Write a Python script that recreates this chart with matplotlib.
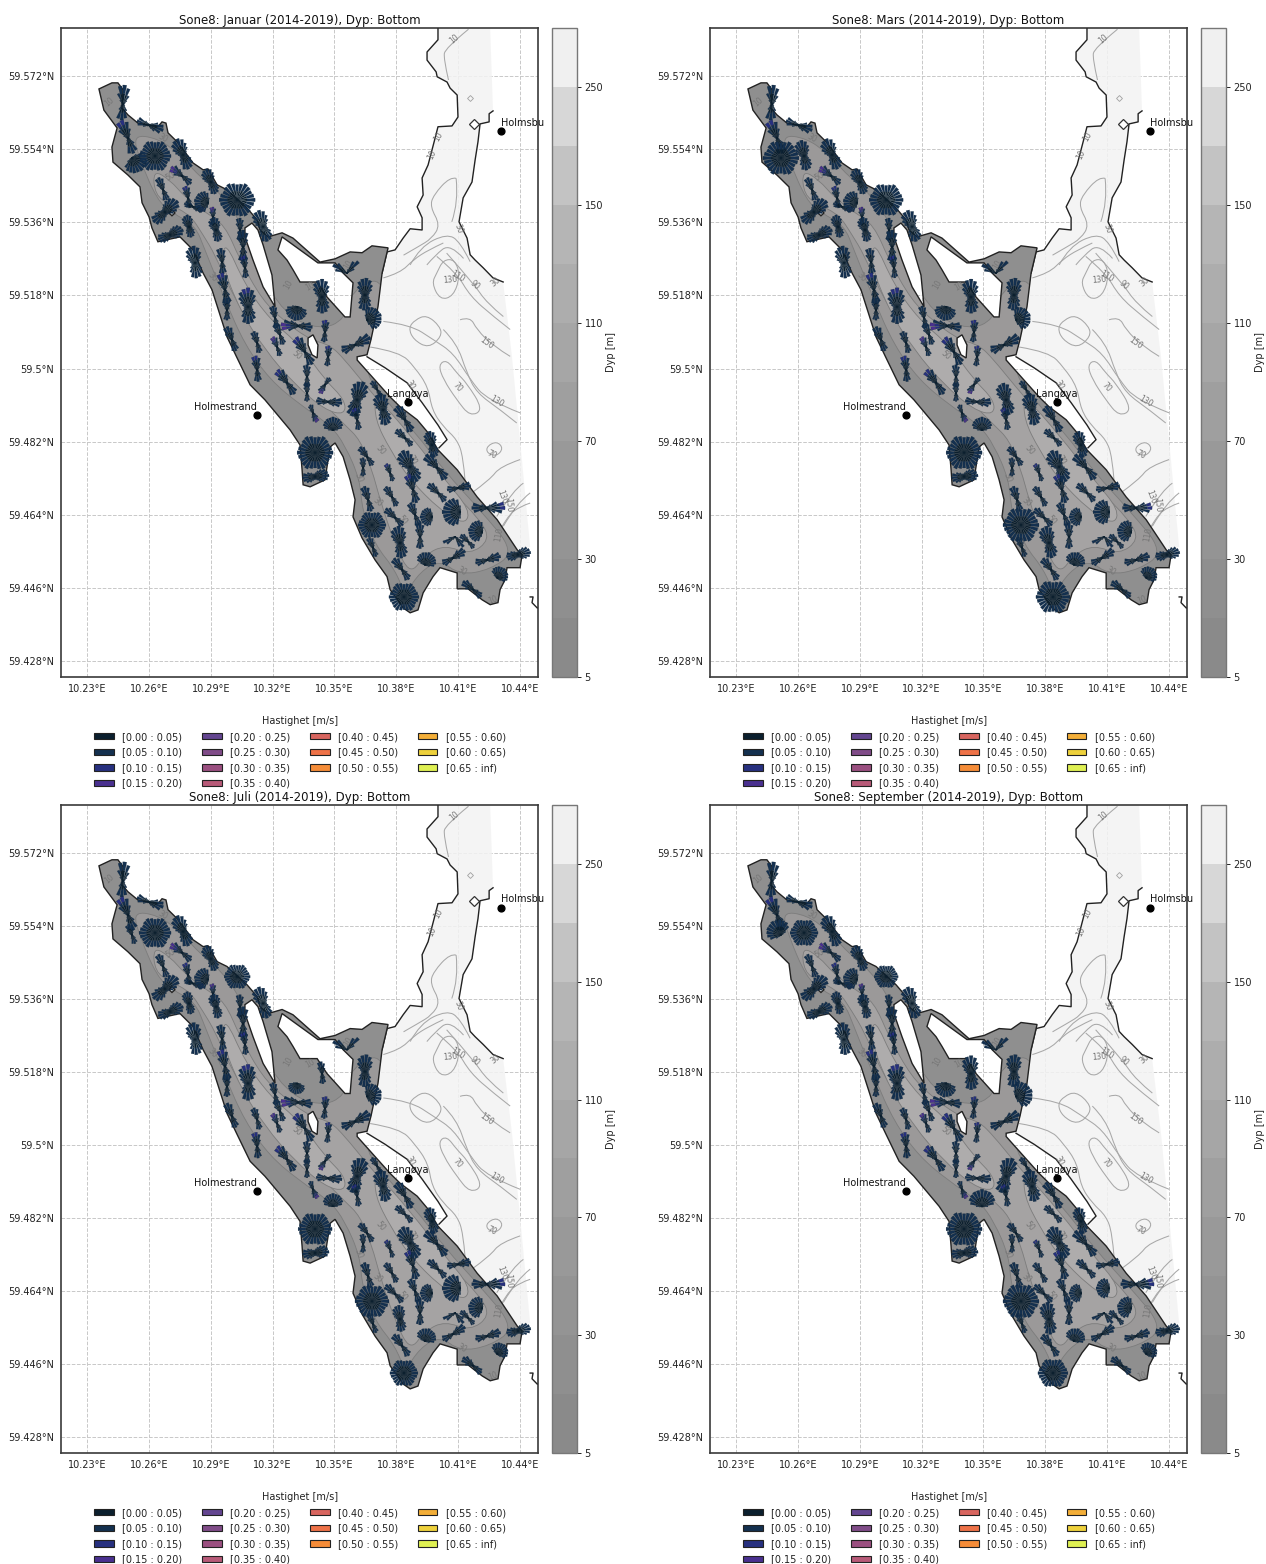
import numpy as np
import matplotlib

matplotlib.use("Agg")
from matplotlib import pyplot as plt
from matplotlib.cm import ScalarMappable
from matplotlib.collections import PolyCollection
from matplotlib.colors import BoundaryNorm, ListedColormap
from matplotlib.patches import Patch, PathPatch, Polygon
from matplotlib.path import Path

FIG_W, FIG_H = 1266, 1564

MONTHS = ["Januar", "Mars", "Juli", "September"]
LON_TICKS = [10.23, 10.26, 10.29, 10.32, 10.35, 10.38, 10.41, 10.44]
LAT_TICKS = [59.428, 59.446, 59.464, 59.482, 59.5, 59.518, 59.536, 59.554, 59.572]
XLIM = (10.2174, 10.4487)
YLIM = (59.4241, 59.5838)

DEPTH_LEVELS = [5, 10, 30, 50, 70, 90, 110, 130, 150, 200, 250, 300]
DEPTH_TICKS = [5, 30, 70, 110, 150, 250]
DEPTH_GREYS = ["#8a8a8a", "#8f8f8f", "#949494", "#999999", "#9f9f9f", "#a6a6a6",
               "#adadad", "#b5b5b5", "#c3c3c3", "#d7d7d7", "#f0f0f0"]

SPEED_LABELS = ["[0.00 : 0.05)", "[0.05 : 0.10)", "[0.10 : 0.15)", "[0.15 : 0.20)",
                "[0.20 : 0.25)", "[0.25 : 0.30)", "[0.30 : 0.35)", "[0.35 : 0.40)",
                "[0.40 : 0.45)", "[0.45 : 0.50)", "[0.50 : 0.55)",
                "[0.55 : 0.60)", "[0.60 : 0.65)", "[0.65 : inf)"]
SPEED_COLORS = ["#0b1f2e", "#14304f", "#27307f", "#4a3090", "#634590", "#804c88",
                "#9a4f80", "#b85a78", "#d8655f", "#ee7248", "#f58c38",
                "#f3ae38", "#eed13c", "#dff052"]

# zone outline, clockwise from the north-west tip
ZONE_LON = [10.2358, 10.2421, 10.2450, 10.2475, 10.2470, 10.2499, 10.2547, 10.2644, 10.2664,
            10.2683, 10.2693, 10.2737, 10.2775, 10.2814, 10.2863, 10.2887, 10.2931, 10.2979,
            10.3076, 10.3125, 10.3139, 10.3178, 10.3246, 10.3299, 10.3430, 10.3503, 10.3576,
            10.3634, 10.3682, 10.3760, 10.3731, 10.3711, 10.3677, 10.3658, 10.3610, 10.3610,
            10.3682, 10.3770, 10.3818, 10.3901, 10.3954, 10.4002, 10.4095, 10.4192, 10.4289,
            10.4386, 10.4410, 10.4400, 10.4337, 10.4327, 10.4303, 10.4293, 10.4255, 10.4216,
            10.4148, 10.4095, 10.4095, 10.4012, 10.3978, 10.3930, 10.3905, 10.3867, 10.3833,
            10.3770, 10.3755, 10.3697, 10.3634, 10.3590, 10.3600, 10.3576, 10.3542, 10.3503,
            10.3479, 10.3469, 10.3454, 10.3382, 10.3348, 10.3343, 10.3333, 10.3285, 10.3163,
            10.3091, 10.3028, 10.2979, 10.2906, 10.2863, 10.2814, 10.2751, 10.2644, 10.2615,
            10.2601, 10.2567, 10.2557, 10.2499, 10.2426, 10.2421, 10.2446, 10.2382]
ZONE_LAT = [59.5688, 59.5703, 59.5703, 59.5686, 59.5641, 59.5624, 59.5604, 59.5595, 59.5607,
            59.5604, 59.5580, 59.5558, 59.5533, 59.5506, 59.5489, 59.5491, 59.5452, 59.5440,
            59.5395, 59.5366, 59.5341, 59.5324, 59.5334, 59.5321, 59.5262, 59.5270, 59.5287,
            59.5285, 59.5302, 59.5297, 59.5235, 59.5152, 59.5071, 59.5034, 59.5029, 59.5021,
            59.4980, 59.4930, 59.4906, 59.4874, 59.4842, 59.4800, 59.4751, 59.4684, 59.4628,
            59.4554, 59.4542, 59.4510, 59.4510, 59.4480, 59.4456, 59.4424, 59.4419, 59.4431,
            59.4458, 59.4458, 59.4497, 59.4510, 59.4488, 59.4448, 59.4406, 59.4399, 59.4411,
            59.4456, 59.4488, 59.4529, 59.4583, 59.4635, 59.4677, 59.4726, 59.4783, 59.4817,
            59.4807, 59.4775, 59.4726, 59.4709, 59.4714, 59.4751, 59.4812, 59.4849, 59.4923,
            59.4960, 59.5026, 59.5078, 59.5194, 59.5235, 59.5292, 59.5324, 59.5312, 59.5346,
            59.5373, 59.5408, 59.5447, 59.5476, 59.5508, 59.5545, 59.5592, 59.5636]

HOLE_A_LON = [10.3066, 10.3100, 10.3129, 10.3154, 10.3197, 10.3212, 10.3154, 10.3105, 10.3066]
HOLE_A_LAT = [59.5346, 59.5358, 59.5341, 59.5304, 59.5230, 59.5152, 59.5201, 59.5267, 59.5324]
HOLE_B_LON = [10.3246, 10.3420, 10.3503, 10.3542, 10.3590, 10.3576, 10.3551, 10.3464, 10.3416,
              10.3333, 10.3299, 10.3270, 10.3226]
HOLE_B_LAT = [59.5324, 59.5260, 59.5260, 59.5235, 59.5211, 59.5127, 59.5127, 59.5176, 59.5213,
              59.5213, 59.5243, 59.5267, 59.5292]
HOLE_C_LON = [10.2698, 10.2712, 10.2727, 10.2712]
HOLE_C_LAT = [59.5383, 59.5390, 59.5383, 59.5376]
HOLE_D_LON = [10.3372, 10.3396, 10.3420, 10.3416, 10.3391, 10.3372]
HOLE_D_LAT = [59.5075, 59.5083, 59.5058, 59.5026, 59.5034, 59.5058]

# light sea area east of the zone
SEA_LON = [10.4002, 10.4002, 10.3949, 10.3949, 10.3993, 10.3998, 10.4046, 10.4061, 10.4095,
           10.4099, 10.4070, 10.4002, 10.3988, 10.3954, 10.3925, 10.3930, 10.3901, 10.3925,
           10.3925, 10.3867, 10.3833, 10.3794, 10.3755, 10.3731, 10.3711, 10.3677, 10.3658,
           10.3745, 10.3852, 10.3925, 10.4002, 10.4046, 10.4007, 10.4095, 10.4192, 10.4289,
           10.4386, 10.4449, 10.4400, 10.4361, 10.4318, 10.4269, 10.4221, 10.4182, 10.4158,
           10.4143, 10.4104, 10.4124, 10.4167, 10.4182, 10.4196, 10.4206, 10.4250, 10.4250,
           10.4269, 10.4255]
SEA_LAT = [59.5836, 59.5809, 59.5779, 59.5759, 59.5730, 59.5718, 59.5705, 59.5690, 59.5673,
           59.5619, 59.5597, 59.5595, 59.5567, 59.5501, 59.5469, 59.5427, 59.5398, 59.5371,
           59.5341, 59.5344, 59.5321, 59.5292, 59.5287, 59.5235, 59.5152, 59.5071, 59.5029,
           59.5002, 59.4965, 59.4916, 59.4861, 59.4825, 59.4805, 59.4751, 59.4684, 59.4628,
           59.4554, 59.4561, 59.4825, 59.5029, 59.5213, 59.5223, 59.5248, 59.5267, 59.5280,
           59.5321, 59.5361, 59.5420, 59.5459, 59.5513, 59.5558, 59.5602, 59.5607, 59.5627,
           59.5634, 59.5838]

# coast lines that are not part of the zone outline
COAST_WEST_N = 24
COAST_LANG_LON = [10.3658, 10.3745, 10.3852, 10.3925, 10.4002, 10.4046, 10.4007]
COAST_LANG_LAT = [59.5029, 59.5002, 59.4965, 59.4916, 59.4861, 59.4825, 59.4805]
COAST_EAST_LON = [10.4269, 10.4250, 10.4250, 10.4206, 10.4196, 10.4182, 10.4167, 10.4124, 10.4104,
                  10.4143, 10.4158, 10.4182, 10.4221, 10.4269, 10.4318]
COAST_EAST_LAT = [59.5634, 59.5627, 59.5607, 59.5602, 59.5558, 59.5513, 59.5459, 59.5420, 59.5361,
                  59.5321, 59.5280, 59.5267, 59.5248, 59.5223, 59.5213]
COAST_SE_LON = [10.4449, 10.4463, 10.4458, 10.4483]
COAST_SE_LAT = [59.4438, 59.4438, 59.4424, 59.4411]

# depth areas inside the zone
D30_LON = [10.2523, 10.2640, 10.2741, 10.2863, 10.2945, 10.3042, 10.3115, 10.3260, 10.3430, 10.3551,
           10.3585, 10.3745, 10.3745, 10.3634, 10.3745, 10.3891, 10.4036, 10.4206, 10.4376, 10.4255,
           10.4109, 10.4012, 10.3915, 10.3842, 10.3794, 10.3697, 10.3634, 10.3624, 10.3551, 10.3479,
           10.3333, 10.3188, 10.3066, 10.2969, 10.2872, 10.2824, 10.2712, 10.2640, 10.2557]
D30_LAT = [59.5575, 59.5567, 59.5531, 59.5464, 59.5432, 59.5366, 59.5255, 59.5132, 59.5095, 59.5120,
           59.5194, 59.5230, 59.5058, 59.5002, 59.4923, 59.4844, 59.4746, 59.4652, 59.4549, 59.4505,
           59.4492, 59.4529, 59.4500, 59.4443, 59.4505, 59.4566, 59.4652, 59.4726, 59.4812, 59.4861,
           59.4911, 59.4972, 59.5058, 59.5169, 59.5292, 59.5353, 59.5383, 59.5415, 59.5513]
D50_LON = [10.2620, 10.2703, 10.2775, 10.2872, 10.2969, 10.3042, 10.3149, 10.3260, 10.3382, 10.3479,
           10.3551, 10.3648, 10.3794, 10.3939, 10.4061, 10.4206, 10.4255, 10.4158, 10.4036, 10.3939,
           10.3867, 10.3794, 10.3721, 10.3682, 10.3624, 10.3551, 10.3430, 10.3260, 10.3139, 10.3018,
           10.2921, 10.2863, 10.2800, 10.2703, 10.2630]
D50_LAT = [59.5489, 59.5464, 59.5422, 59.5385, 59.5353, 59.5267, 59.5169, 59.5115, 59.5071, 59.5058,
           59.5021, 59.4960, 59.4874, 59.4775, 59.4702, 59.4628, 59.4579, 59.4542, 59.4566, 59.4542,
           59.4492, 59.4566, 59.4677, 59.4751, 59.4825, 59.4861, 59.4923, 59.4984, 59.5071, 59.5169,
           59.5280, 59.5329, 59.5378, 59.5403, 59.5427]
D70A_LON = [10.2969, 10.3066, 10.3188, 10.3333, 10.3454, 10.3551, 10.3551, 10.3454, 10.3309, 10.3163,
            10.3042, 10.2955]
D70A_LAT = [59.5317, 59.5206, 59.5120, 59.5058, 59.4972, 59.4923, 59.4886, 59.4898, 59.4960, 59.5046,
            59.5144, 59.5255]
D70B_LON = [10.3697, 10.3867, 10.4036, 10.4158, 10.4133, 10.4012, 10.3867, 10.3770, 10.3697]
D70B_LAT = [59.4935, 59.4837, 59.4726, 59.4652, 59.4615, 59.4652, 59.4726, 59.4800, 59.4874]

# depth contours in the sea area
SEA_CONTOURS = [
    ([10.3673, 10.3818, 10.3891, 10.3954, 10.3973, 10.4027, 10.4095, 10.4124, 10.4133],
     [59.5053, 59.5041, 59.5002, 59.4955, 59.4898, 59.4857, 59.4825, 59.4783, 59.4726]),
    ([10.3737, 10.3867, 10.3980, 10.4077, 10.4158, 10.4239, 10.4400],
     [59.5116, 59.5108, 59.5071, 59.5038, 59.4973, 59.4923, 59.4891]),
    ([10.4109, 10.4158, 10.4190, 10.4271, 10.4352],
     [59.5120, 59.5128, 59.5096, 59.5055, 59.5030]),
    ([10.4028, 10.4093, 10.4142, 10.4190, 10.4303, 10.4384],
     [59.5096, 59.5063, 59.4989, 59.4940, 59.4899, 59.4866]),
    ([10.4239, 10.4287, 10.4319, 10.4287, 10.4239, 10.4239],
     [59.4809, 59.4821, 59.4804, 59.4784, 59.4792, 59.4809]),
    ([10.4004, 10.4044, 10.4093, 10.4142, 10.4222, 10.4158, 10.4093, 10.4028, 10.4004],
     [59.5009, 59.5022, 59.4989, 59.4964, 59.4899, 59.4882, 59.4923, 59.4973, 59.5009]),
    ([10.3996, 10.4028, 10.4085, 10.4109, 10.4077, 10.4012, 10.3972, 10.3996],
     [59.5235, 59.5268, 59.5268, 59.5227, 59.5178, 59.5169, 59.5210, 59.5235]),
    ([10.3891, 10.3947, 10.4012, 10.4020, 10.3956, 10.3883, 10.3859, 10.3891],
     [59.5120, 59.5132, 59.5104, 59.5079, 59.5050, 59.5071, 59.5100, 59.5120]),
    ([10.4044, 10.4174, 10.4239, 10.4319], [59.5284, 59.5210, 59.5161, 59.5128]),
    ([10.3996, 10.4093, 10.4158, 10.4271, 10.4352], [59.5276, 59.5235, 59.5178, 59.5128, 59.5096]),
    ([10.3737, 10.3818, 10.3883, 10.3956, 10.4028], [59.5223, 59.5235, 59.5268, 59.5292, 59.5309]),
    ([10.4166, 10.4255, 10.4303, 10.4400], [59.4694, 59.4727, 59.4759, 59.4776]),
    ([10.4287, 10.4368, 10.4416], [59.4636, 59.4702, 59.4718]),
    ([10.4319, 10.4384, 10.4449], [59.4612, 59.4669, 59.4694]),
    ([10.4287, 10.4336, 10.4400, 10.4449], [59.4587, 59.4636, 59.4661, 59.4669]),
    ([10.4150, 10.4037, 10.4029, 10.4053], [59.5835, 59.5788, 59.5763, 59.5710]),
    ([10.4090, 10.4061, 10.3980, 10.3964, 10.4013, 10.3972, 10.3907, 10.3835],
     [59.5468, 59.5472, 59.5427, 59.5398, 59.5353, 59.5320, 59.5300, 59.5279]),
    ([10.4090, 10.4102, 10.4069], [59.5468, 59.5410, 59.5361]),
    ([10.3867, 10.3916, 10.4045, 10.4110, 10.4158], [59.5255, 59.5300, 59.5332, 59.5312, 59.5263]),
    ([10.3948, 10.3988, 10.4061, 10.4126], [59.5255, 59.5279, 59.5308, 59.5271]),
]

LABEL_TEXT = ["10", "10", "30", "50", "30", "50", "50", "30", "30", "70", "50", "30", "10", "30",
              "130", "110", "90", "30", "150", "70", "130", "70", "130", "150", "110", "10", "10",
              "30", "10", "10", "10"]
LABEL_LON = [10.4080, 10.2407, 10.2669, 10.2703, 10.2906, 10.3319, 10.3721, 10.3614, 10.3711, 10.3876,
             10.3828, 10.4119, 10.4269, 10.3867, 10.4061, 10.4099, 10.4182, 10.4279, 10.4240, 10.4095,
             10.4289, 10.4264, 10.4313, 10.4342, 10.4298, 10.4002, 10.3973, 10.4099, 10.3275, 10.3382,
             10.3566]
LABEL_LAT = [59.5811, 59.5656, 59.5567, 59.5472, 59.5226, 59.5034, 59.4800, 59.4731, 59.4672, 59.4775,
             59.4628, 59.4500, 59.4431, 59.4960, 59.5218, 59.5226, 59.5206, 59.5213, 59.5063, 59.4955,
             59.4918, 59.4788, 59.4684, 59.4665, 59.4591, 59.5570, 59.5526, 59.5344, 59.5206, 59.5201,
             59.5255]
LABEL_ROT = [40, 40, -30, 30, -50, -40, -50, -70, -40, -60, -50, -30, 20, -60, 5, -30, -40, 40, -35,
             -50, -30, -25, -70, -85, 80, 60, 65, -70, 60, 30, 60]

PLACE_NAMES = ["Holmsbu", "Langøya", "Holmestrand"]
PLACE_LON = [10.4308, 10.3857, 10.3125]
PLACE_LAT = [59.5585, 59.4918, 59.4886]

# current rose sites
ROSE_LON = [10.2475, 10.2601, 10.2499, 10.2518, 10.2630, 10.2766, 10.2761, 10.2669, 10.2678, 10.2790,
            10.2814, 10.2887, 10.2901, 10.3028, 10.2703, 10.2911, 10.2926, 10.2795, 10.3042, 10.3154,
            10.2824, 10.2955, 10.3057, 10.3066, 10.2969, 10.3081, 10.2979, 10.3003, 10.3125, 10.3319,
            10.3440, 10.3323, 10.3212, 10.3236, 10.3454, 10.3561, 10.3648, 10.3658, 10.3600, 10.3222,
            10.3357, 10.3469, 10.3367, 10.3367, 10.3270, 10.3125, 10.3454, 10.3469, 10.3396, 10.3406,
            10.3493, 10.3406, 10.3610, 10.3610, 10.3736, 10.3707, 10.3842, 10.3973, 10.3998, 10.3842,
            10.3658, 10.3639, 10.3867, 10.3770, 10.3881, 10.4002, 10.4099, 10.3663, 10.3779, 10.3973,
            10.4109, 10.4240, 10.3794, 10.3682, 10.3687, 10.3818, 10.3891, 10.3915, 10.4216, 10.4085,
            10.4148, 10.3939, 10.3828, 10.3837, 10.4075, 10.4240, 10.4390, 10.4289, 10.4172]
ROSE_LAT = [59.5651, 59.5599, 59.5567, 59.5518, 59.5523, 59.5526, 59.5474, 59.5440, 59.5385, 59.5420,
            59.5398, 59.5408, 59.5459, 59.5415, 59.5329, 59.5373, 59.5341, 59.5349, 59.5341, 59.5349,
            59.5260, 59.5262, 59.5299, 59.5248, 59.5194, 59.5152, 59.5144, 59.5071, 59.5063, 59.5152,
            59.5176, 59.5105, 59.5125, 59.5083, 59.5090, 59.5235, 59.5181, 59.5120, 59.5058, 59.5053,
            59.5041, 59.5029, 59.4980, 59.4940, 59.4965, 59.4997, 59.4960, 59.4918, 59.4891, 59.4793,
            59.4849, 59.4734, 59.4923, 59.4874, 59.4898, 59.4948, 59.4874, 59.4812, 59.4756, 59.4829,
            59.4783, 59.4756, 59.4758, 59.4743, 59.4702, 59.4694, 59.4706, 59.4677, 59.4684, 59.4635,
            59.4647, 59.4657, 59.4633, 59.4615, 59.4559, 59.4571, 59.4640, 59.4586, 59.4598, 59.4586,
            59.4574, 59.4517, 59.4505, 59.4438, 59.4534, 59.4529, 59.4542, 59.4485, 59.4456]
ROSE_SIZE = [19, 15, 19, 16, 16, 17, 14, 13, 17, 12, 11, 14, 14, 18, 14, 10, 13, 12, 12, 17,
             17, 14, 17, 12, 17, 19, 12, 14, 12, 14, 18, 17, 12, 12, 12, 16, 17, 15, 17, 11,
             17, 11, 12, 10, 16, 14, 10, 14, 10, 18, 13, 14, 19, 12, 17, 10, 16, 14, 17, 12,
             12, 10, 18, 10, 16, 13, 13, 14, 12, 12, 18, 18, 13, 14, 11, 17, 13, 14, 14, 13,
             10, 13, 14, 15, 14, 14, 13, 12, 13]
ROSE_AXIS = [85, -20, 110, -50, 0, 110, 140, 110, 40, 100, -20, 170, 110, 0, 20, 90, 100, 100, 90, 105,
             95, 95, 90, 95, 100, 90, 90, 110, 105, -100, 90, 175, 100, 110, 85, 45, 85, 20, 25, 110,
             120, 85, 90, 90, 125, 95, 235, -5, -70, 0, 90, 5, 70, 100, 100, 120, 120, 100, 130, 135,
             125, 90, 115, 110, 105, 135, 10, 105, 120, 180, 180, 0, 135, 0, 110, 95, 110, 90, 170, 205,
             135, 70, 125, 0, 30, 15, 10, 50, 140]
ROSE_KIND = list("NNNFOWNNWNNFWOWNWWNW"
                 "WNNNNWNNNFWNNNNVWFNN"
                 "NNNNNNNNNOFWWNWNNWNN"
                 "NNWNNNNNNFFNNONWNNFV"
                 "NFNONNWFN")
BLUE_SITES = [3, 10, 11, 24, 25, 26, 35, 41, 42, 45, 46, 54, 64, 65, 72]
PURPLE_SITES = [7, 16, 32, 40, 47, 49]

# month changes per site number: (size, axis, kind)
MONTH_CHANGES = {
    "Januar": {},
    "Mars": {4: (18, 0, "O"), 5: (16, 100, "W"), 14: (17, 0, "O"), 53: (17, 100, "W"),
             71: (16, 180, "F"), 72: (16, 0, "N"), 74: (18, 0, "O"), 76: (17, 100, "W"), 84: (17, 0, "O")},
    "Juli": {4: (11, 110, "N"), 14: (13, 0, "O"), 30: (11, -100, "F"), 31: (12, 95, "N"), 50: (17, 0, "O"),
             74: (17, 0, "O"), 76: (14, 95, "W"), 84: (14, 0, "O")},
    "September": {4: (16, 125, "F"), 5: (14, 0, "O"), 14: (12, 0, "O"), 38: (17, 20, "F"),
                  51: (17, 90, "F"), 71: (13, 180, "F"), 74: (18, 0, "O")},
}

# relative petal lengths for 24 sectors, counter clockwise from the axis
ROSE_SHAPES = {
    "N": [1.0, .95, .6, .25, .12, .08, .06, .06, .08, .15, .35, .8,
          .85, .75, .4, .15, .08, .06, .06, .08, .12, .25, .5, .85],
    "W": [1.0, .95, .85, .65, .45, .3, .22, .2, .25, .4, .6, .85,
          .9, .85, .7, .5, .3, .22, .2, .22, .3, .5, .7, .9],
    "O": [1.0, .95, .9, .95, 1.0, .9, .85, .92, 1.0, .95, .88, .95,
          1.0, .95, .9, .95, 1.0, .9, .85, .92, 1.0, .95, .88, .95],
    "F": [1.0, .95, .95, .9, .85, .7, .35, .15, .08, .06, .05, .05,
          .05, .05, .05, .06, .08, .15, .35, .7, .85, .9, .95, .95],
    "V": [1.0, .8, .25, .08, .05, .05, .8, 1.0, .75, .25, .08, .05,
          .04, .04, .04, .04, .04, .04, .04, .04, .05, .06, .12, .5],
}


def px_box(x, y, w, h):
    return [x / FIG_W, 1 - (y + h) / FIG_H, w / FIG_W, h / FIG_H]


def smooth_path(lons, lats, closed=False):
    # quadratic curves through the mid points, the read points act as controls
    pts = np.column_stack([lons, lats])
    if closed:
        if np.allclose(pts[0], pts[-1]):
            pts = pts[:-1]
        start = (pts[-1] + pts[0]) / 2.0
        verts, codes = [start], [Path.MOVETO]
        for i in range(len(pts)):
            verts += [pts[i], (pts[i] + pts[(i + 1) % len(pts)]) / 2.0]
            codes += [Path.CURVE3, Path.CURVE3]
        return Path(verts, codes)
    if len(pts) < 3:
        return Path(pts)
    verts, codes = [pts[0]], [Path.MOVETO]
    for i in range(1, len(pts) - 1):
        end = pts[i + 1] if i == len(pts) - 2 else (pts[i] + pts[i + 1]) / 2.0
        verts += [pts[i], end]
        codes += [Path.CURVE3, Path.CURVE3]
    return Path(verts, codes)


def zone_path():
    rings = [
        (ZONE_LON, ZONE_LAT),
        (HOLE_A_LON, HOLE_A_LAT),
        (HOLE_B_LON, HOLE_B_LAT),
        (HOLE_C_LON, HOLE_C_LAT),
        (HOLE_D_LON, HOLE_D_LAT),
    ]
    verts, codes = [], []
    for ring_index, (lons, lats) in enumerate(rings):
        points = list(zip(lons, lats))
        if ring_index > 0:
            points = points[::-1]
        verts += points + [points[0]]
        codes += [Path.MOVETO] + [Path.LINETO] * (len(points) - 1) + [Path.CLOSEPOLY]
    return Path(verts, codes)


def add_roses(ax, month, lon_per_px, lat_per_px):
    changes = MONTH_CHANGES[month]
    polys, colors = [], []
    for site, (lon, lat) in enumerate(zip(ROSE_LON, ROSE_LAT), start=1):
        size, axis, kind = changes.get(site, (ROSE_SIZE[site - 1], ROSE_AXIS[site - 1], ROSE_KIND[site - 1]))
        for sector, length in enumerate(ROSE_SHAPES[kind]):
            centre = np.radians(axis + sector * 15.0)
            edges = centre + np.radians([-6.0, -3.0, 0.0, 3.0, 6.0])
            outer = size * length
            bands = [(0.0, 0.55, SPEED_COLORS[0]), (0.55, 1.0, SPEED_COLORS[1])]
            if sector in (0, 1) and site in BLUE_SITES:
                bands = [(0.0, 0.55, SPEED_COLORS[0]), (0.55, 0.72, SPEED_COLORS[1]), (0.72, 1.0, SPEED_COLORS[2])]
            if sector in (0, 1) and site in PURPLE_SITES:
                bands = [(0.0, 0.45, SPEED_COLORS[1]), (0.45, 0.72, SPEED_COLORS[2]), (0.72, 1.0, SPEED_COLORS[3])]
            for start, stop, color in bands:
                r0, r1 = start * outer, stop * outer
                xs = np.concatenate([r0 * np.cos(edges), r1 * np.cos(edges[::-1])])
                ys = np.concatenate([r0 * np.sin(edges), r1 * np.sin(edges[::-1])])
                polys.append(np.column_stack([lon + xs * lon_per_px, lat + ys * lat_per_px]))
                colors.append(color)
    ax.add_collection(PolyCollection(polys, facecolors=colors, edgecolors="#0b1f2e",
                                     linewidths=0.15, zorder=6))


def draw_panel(fig, month, left, top, height):
    ax = fig.add_axes(px_box(left, top, 477, height))
    ax.set_xlim(*XLIM)
    ax.set_ylim(*YLIM)
    lon_per_px = (XLIM[1] - XLIM[0]) / 477.0
    lat_per_px = (YLIM[1] - YLIM[0]) / float(height)

    ax.set_xticks(LON_TICKS)
    ax.set_yticks(LAT_TICKS)
    ax.set_xticklabels([f"{value:g}°E" for value in LON_TICKS])
    ax.set_yticklabels([f"{value:g}°N" for value in LAT_TICKS])
    ax.tick_params(length=0, labelsize=7.0, pad=5, colors="#222222")
    ax.grid(color="#c8c8c8", linewidth=0.7, linestyle="--", zorder=0)
    ax.set_axisbelow(True)
    for spine in ax.spines.values():
        spine.set_color("#3a3a3a")
        spine.set_linewidth(1.2)

    # sea area with contours
    ax.add_patch(Polygon(np.column_stack([SEA_LON, SEA_LAT]), closed=True, facecolor="#f3f3f3",
                         edgecolor="none", alpha=0.85, zorder=1))
    for lons, lats in SEA_CONTOURS:
        is_loop = lons[0] == lons[-1] and lats[0] == lats[-1]
        ax.add_patch(PathPatch(smooth_path(lons, lats, closed=is_loop), facecolor="none",
                               edgecolor="#a8a8a8", linewidth=0.75, zorder=2))
    ax.plot(10.4158, 59.5666, marker="D", markersize=3, markerfacecolor="none",
            markeredgecolor="#a0a0a0", markeredgewidth=0.6, zorder=2)
    ax.plot(10.4177, 59.5602, marker="D", markersize=5, markerfacecolor="white",
            markeredgecolor="#333333", markeredgewidth=0.9, zorder=3)

    # coasts
    ax.plot(SEA_LON[:COAST_WEST_N], SEA_LAT[:COAST_WEST_N], color="#222222", linewidth=1.0, zorder=3)
    ax.plot(COAST_LANG_LON, COAST_LANG_LAT, color="#222222", linewidth=1.0, zorder=3)
    ax.plot(COAST_EAST_LON, COAST_EAST_LAT, color="#222222", linewidth=1.0, zorder=3)
    ax.plot(COAST_SE_LON, COAST_SE_LAT, color="#222222", linewidth=1.0, zorder=3)

    # zone with depth shading clipped to it
    path = zone_path()
    ax.add_patch(PathPatch(path, facecolor=DEPTH_GREYS[1], edgecolor="none", zorder=4))
    depth_areas = [
        (D30_LON, D30_LAT, "#9b9999"),
        (D50_LON, D50_LAT, "#a5a3a3"),
        (D70A_LON, D70A_LAT, "#aeacac"),
        (D70B_LON, D70B_LAT, "#aeacac"),
    ]
    for lons, lats, grey in depth_areas:
        area = PathPatch(smooth_path(lons, lats, closed=True), facecolor=grey,
                         edgecolor="#7c7c7c", linewidth=0.6, zorder=4.2)
        ax.add_patch(area)
        area.set_clip_path(path, ax.transData)
    ax.add_patch(PathPatch(path, facecolor="none", edgecolor="#222222", linewidth=1.0, zorder=4.6))

    for text, lon, lat, rot in zip(LABEL_TEXT, LABEL_LON, LABEL_LAT, LABEL_ROT):
        ax.text(lon, lat, text, fontsize=5.5, color="#777777", rotation=rot,
                ha="center", va="center", zorder=5)

    add_roses(ax, month, lon_per_px, lat_per_px)

    # places
    ax.scatter(PLACE_LON, PLACE_LAT, s=24, color="black", zorder=7)
    ax.text(PLACE_LON[0], PLACE_LAT[0] + 0.0008, PLACE_NAMES[0], fontsize=7.0, ha="left", va="bottom",
            color="#111111", zorder=8, clip_on=False)
    ax.text(PLACE_LON[1], PLACE_LAT[1] + 0.0008, PLACE_NAMES[1], fontsize=7.0, ha="center", va="bottom",
            color="#111111", zorder=8)
    ax.text(PLACE_LON[2], PLACE_LAT[2] + 0.0008, PLACE_NAMES[2], fontsize=7.0, ha="right", va="bottom",
            color="#111111", zorder=8)

    ax.set_title(f"Sone8: {month} (2014-2019), Dyp: Bottom", fontsize=8.5, pad=3.0, color="#111111")

    handles = [Patch(facecolor=color, edgecolor="#222222", linewidth=0.8) for color in SPEED_COLORS]
    legend = ax.legend(handles, SPEED_LABELS, ncol=4, loc="upper left",
                       bbox_to_anchor=(33.0 / 477.0, -39.0 / height), frameon=False,
                       fontsize=7.0, title="Hastighet [m/s]", title_fontsize=7.0,
                       handlelength=2.05, handleheight=0.62, handletextpad=0.85,
                       labelspacing=0.58, columnspacing=2.0, borderpad=0.0, borderaxespad=0.0)
    legend.get_title().set_color("#222222")
    for label in legend.get_texts():
        label.set_color("#222222")

    # depth colour bar
    cax = fig.add_axes(px_box(left + 491, top, 25, height))
    cmap = ListedColormap(DEPTH_GREYS)
    norm = BoundaryNorm(DEPTH_LEVELS, cmap.N)
    cbar = fig.colorbar(ScalarMappable(norm=norm, cmap=cmap), cax=cax, spacing="uniform",
                        ticks=DEPTH_TICKS, drawedges=False)
    cbar.ax.tick_params(labelsize=7.0, length=3, width=0.7, pad=2.5, colors="#222222")
    cbar.ax.minorticks_off()
    cbar.set_label("Dyp [m]", fontsize=7.0, labelpad=2.0, color="#222222")
    cbar.outline.set_edgecolor("#777777")
    cbar.outline.set_linewidth(1.0)
    return ax


fig = plt.figure(figsize=(FIG_W / 100.0, FIG_H / 100.0), dpi=100)
fig.patch.set_facecolor("white")

draw_panel(fig, MONTHS[0], 61, 28, 649)
draw_panel(fig, MONTHS[1], 710, 28, 649)
draw_panel(fig, MONTHS[2], 61, 805, 648)
draw_panel(fig, MONTHS[3], 710, 805, 648)

fig.savefig("out.png", dpi=100)
plt.close(fig)
